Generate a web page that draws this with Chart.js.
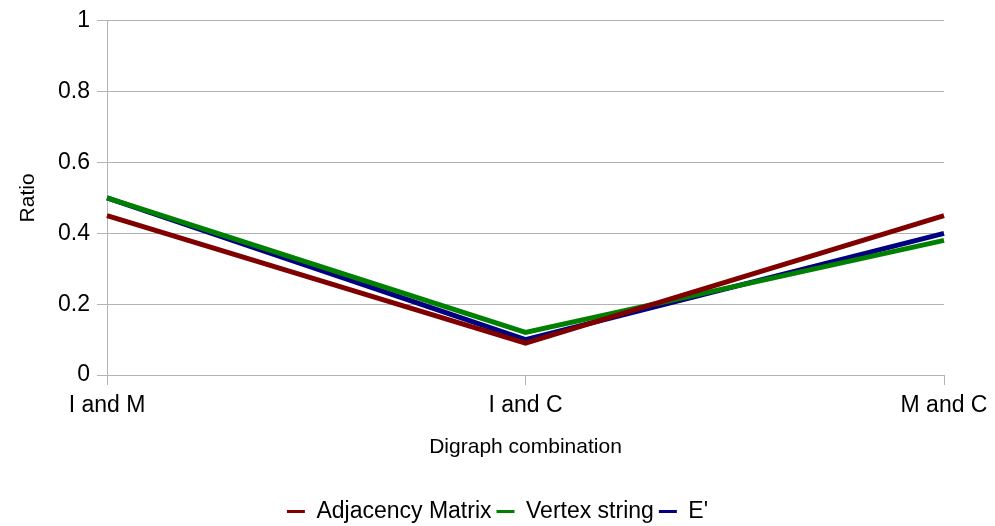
<!DOCTYPE html>
<html>
<head>
<meta charset="utf-8">
<script src="https://cdn.jsdelivr.net/npm/chart.js@4/dist/chart.umd.min.js"></script>
<style>
  html, body { margin: 0; padding: 0; background: #fff; }
  #wrap { width: 995px; height: 526px; position: relative; }
</style>
</head>
<body>
<div id="wrap"><canvas id="chart"></canvas></div>
<script>
// --- Data ---
const categories = ['I and M', 'I and C', 'M and C'];
const adjacencyMatrix = [0.45, 0.09, 0.45];
const vertexString = [0.5, 0.12, 0.38];
const ePrime = [0.5, 0.10, 0.40];
const yTicks = [0, 0.2, 0.4, 0.6, 0.8, 1];

const fontFamily = '"Liberation Sans", Arial, sans-serif';

function series(label, data, color) {
    return {
        label: label,
        data: data,
        borderColor: color,
        backgroundColor: color,
        borderWidth: 5,
        pointRadius: 0,
        tension: 0,
        fill: false
    };
}

const ctx = document.getElementById('chart').getContext('2d');
new Chart(ctx, {
    type: 'line',
    data: {
        labels: categories,
        datasets: [
            series('Adjacency Matrix', adjacencyMatrix, '#800000'),
            series('Vertex string', vertexString, '#008000'),
            series("E'", ePrime, '#000080')
        ]
    },
    options: {
        responsive: true,
        maintainAspectRatio: false,
        animation: false,
        // negative bottom padding pulls the legend down closer to the edge
        layout: { padding: { top: 17, right: 0, bottom: -7, left: 0 } },
        plugins: {
            tooltip: { enabled: false },
            legend: {
                position: 'bottom',
                labels: {
                    color: '#000',
                    font: { family: fontFamily, size: 23 },
                    boxWidth: 18,
                    boxHeight: 3,
                    padding: 5,
                    generateLabels: chart => Chart.defaults.plugins.legend.labels.generateLabels(chart)
                        .map(l => Object.assign(l, { lineWidth: 0 }))
                }
            }
        },
        scales: {
            x: {
                offset: false,
                afterFit: s => { s.height = 120; s.paddingRight = 51; },
                grid: { display: true, drawOnChartArea: false, tickLength: 10, color: '#b3b3b3' },
                border: { color: '#b3b3b3' },
                ticks: {
                    color: '#000',
                    font: { family: fontFamily, size: 23 },
                    padding: 7,
                    maxRotation: 0
                },
                title: {
                    display: true,
                    text: 'Digraph combination',
                    color: '#000',
                    font: { family: fontFamily, size: 21 },
                    padding: { top: 0, bottom: 35 }
                }
            },
            y: {
                min: 0,
                max: 1,
                afterFit: s => { s.width = 107; },
                afterBuildTicks: s => { s.ticks = yTicks.map(v => ({ value: v })); },
                grid: { color: '#b3b3b3', tickLength: 10 },
                border: { color: '#b3b3b3' },
                ticks: {
                    color: '#000',
                    font: { family: fontFamily, size: 23 },
                    padding: 7,
                    callback: v => String(v)
                },
                title: {
                    display: true,
                    text: 'Ratio',
                    color: '#000',
                    font: { family: fontFamily, size: 21 },
                    padding: { top: 16, bottom: 0 }
                }
            }
        }
    }
});
</script>
</body>
</html>
